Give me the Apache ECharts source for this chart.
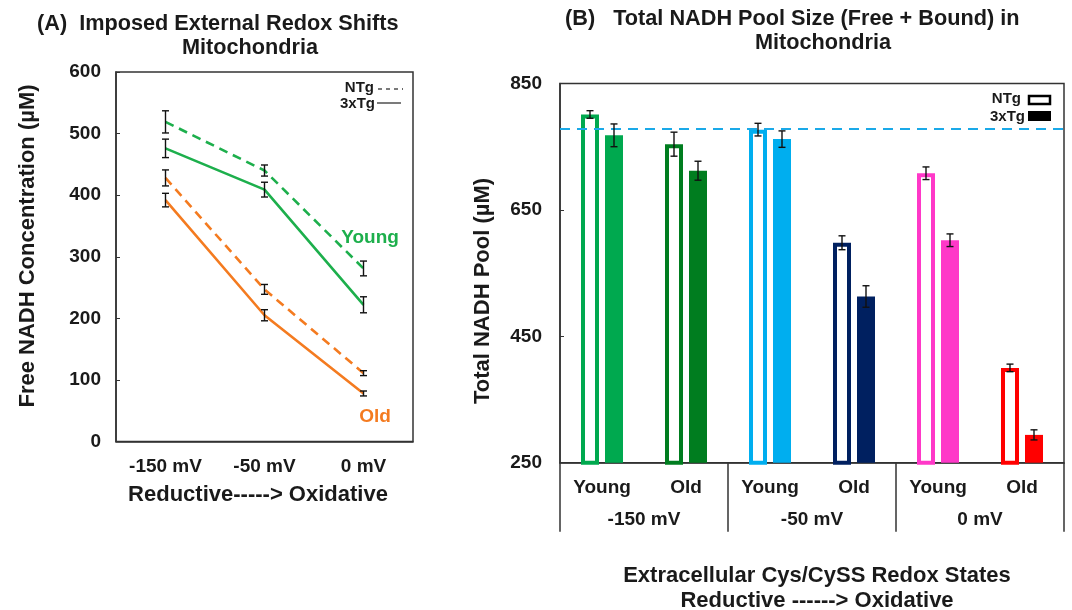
<!DOCTYPE html>
<html><head><meta charset="utf-8">
<script src="https://cdn.jsdelivr.net/npm/echarts@6/dist/echarts.min.js"></script>
<style>html,body{margin:0;padding:0;background:#fff}#c{width:1072px;height:610px}</style>
</head><body><div id="c"></div>
<script>
// ---------- Panel A data ----------
const redoxLabels = ['-150 mV', '-50 mV', '0 mV'];
const freeTicks = [0, 100, 200, 300, 400, 500, 600];
const youngNTg = [519, 440, 281];
const youngNTgErr = [18, 9, 12];
const young3xTg = [476, 409, 222];
const young3xTgErr = [15, 12, 13];
const oldNTg = [428, 247, 111];
const oldNTgErr = [13, 8, 4];
const old3xTg = [392, 205, 78];
const old3xTgErr = [11, 9, 4];

// ---------- Panel B data ----------
const ageLabels = ['Young', 'Old', 'Young', 'Old', 'Young', 'Old'];
const poolTicks = [250, 450, 650, 850];
const poolNTg = [801, 754, 777, 598, 708, 400];
const poolNTgErr = [6, 19, 10, 11, 10, 6];
const pool3xTg = [768, 712, 762, 513, 602, 294];
const pool3xTgErr = [18, 15, 13, 17, 10, 8];
const poolReference = 778;

// ---------- styles ----------
const FONT = 'Liberation Sans, Arial, sans-serif';
const INK = '#1a1a1a';
const GREEN = '#1daf4c';
const ORANGE = '#f47b20';
const barColors = ['#00a94f', '#007d1f', '#00aeef', '#002060', '#ff38c8', '#ff0000'];
const BAR_W = 18, BAR_GAP = 6;

function errRender(offset) {
  return function (params, api) {
    const x = api.value(0), v = api.value(1), e = api.value(2);
    const top = api.coord([x, v + e]);
    const bot = api.coord([x, v - e]);
    const cx = top[0] + offset;
    const cap = 3.5;
    const st = { stroke: '#111', lineWidth: 1.4 };
    return {
      type: 'group',
      children: [
        { type: 'line', shape: { x1: cx, y1: top[1], x2: cx, y2: bot[1] }, style: st },
        { type: 'line', shape: { x1: cx - cap, y1: top[1], x2: cx + cap, y2: top[1] }, style: st },
        { type: 'line', shape: { x1: cx - cap, y1: bot[1], x2: cx + cap, y2: bot[1] }, style: st }
      ]
    };
  };
}
function errData(vals, errs) { return vals.map((v, i) => [i, v, errs[i]]); }

const chart = echarts.init(document.getElementById('c'), null, { renderer: 'canvas' });

function T(t, x, y, size, opts) {
  opts = opts || {};
  return {
    type: 'text', x: x, y: y, rotation: opts.rotation || 0,
    style: { text: t, font: 'bold ' + size + 'px ' + FONT, fill: opts.fill || INK,
      textAlign: opts.align || 'center', textVerticalAlign: 'middle' }
  };
}

const axisLineStyle = { color: '#333', width: 1.5 };

const option = {
  animation: false,
  backgroundColor: '#fff',
  grid: [
    { left: 116, top: 72, width: 297, height: 369.5, show: true, borderColor: '#333', borderWidth: 1.5, containLabel: false },
    { left: 560, top: 83.5, width: 504, height: 379.2, show: true, borderColor: '#333', borderWidth: 1.5, containLabel: false }
  ],
  xAxis: [
    { type: 'category', gridIndex: 0, data: redoxLabels, boundaryGap: true,
      axisLine: { lineStyle: axisLineStyle },
      axisTick: { inside: true, length: 5, lineStyle: { color: '#333', width: 1.2 } },
      axisLabel: { margin: 16, color: INK, fontFamily: FONT, fontWeight: 'bold', fontSize: 19 } },
    { type: 'category', gridIndex: 1, data: ageLabels, position: 'bottom', offset: 0,
      axisLine: { lineStyle: axisLineStyle },
      axisTick: { show: false },
      axisLabel: { margin: 16, color: INK, fontFamily: FONT, fontWeight: 'bold', fontSize: 19 } },
    { type: 'category', gridIndex: 1, data: redoxLabels, position: 'bottom', offset: 0,
      axisLine: { show: false },
      axisTick: { show: true, length: 69, alignWithLabel: false, lineStyle: { color: '#333', width: 1.5 } },
      axisLabel: { margin: 48, color: INK, fontFamily: FONT, fontWeight: 'bold', fontSize: 19 } }
  ],
  yAxis: [
    { type: 'value', gridIndex: 0, min: freeTicks[0], max: freeTicks[freeTicks.length - 1], interval: 100,
      splitLine: { show: false },
      axisLine: { show: true, lineStyle: axisLineStyle },
      axisTick: { show: true, inside: true, length: 4, lineStyle: { color: '#333' } },
      axisLabel: { margin: 15, color: INK, fontFamily: FONT, fontWeight: 'bold', fontSize: 19 } },
    { type: 'value', gridIndex: 1, min: poolTicks[0], max: poolTicks[poolTicks.length - 1],
      splitLine: { show: false },
      axisLine: { show: true, lineStyle: axisLineStyle },
      axisTick: { show: true, inside: true, length: 4, customValues: poolTicks, lineStyle: { color: '#333' } },
      axisLabel: { margin: 18, customValues: poolTicks, color: INK, fontFamily: FONT, fontWeight: 'bold', fontSize: 19 } }
  ],
  series: [
    // Panel A lines
    { type: 'line', name: 'Young NTg', xAxisIndex: 0, yAxisIndex: 0, data: youngNTg, symbol: 'none',
      lineStyle: { color: GREEN, width: 2.6, type: [9, 6] } },
    { type: 'line', name: 'Young 3xTg', xAxisIndex: 0, yAxisIndex: 0, data: young3xTg, symbol: 'none',
      lineStyle: { color: GREEN, width: 2.6 } },
    { type: 'line', name: 'Old NTg', xAxisIndex: 0, yAxisIndex: 0, data: oldNTg, symbol: 'none',
      lineStyle: { color: ORANGE, width: 2.6, type: [9, 6] } },
    { type: 'line', name: 'Old 3xTg', xAxisIndex: 0, yAxisIndex: 0, data: old3xTg, symbol: 'none',
      lineStyle: { color: ORANGE, width: 2.6 } },
    { type: 'custom', xAxisIndex: 0, yAxisIndex: 0, renderItem: errRender(0), data: errData(youngNTg, youngNTgErr), z: 5 },
    { type: 'custom', xAxisIndex: 0, yAxisIndex: 0, renderItem: errRender(0), data: errData(young3xTg, young3xTgErr), z: 5 },
    { type: 'custom', xAxisIndex: 0, yAxisIndex: 0, renderItem: errRender(0), data: errData(oldNTg, oldNTgErr), z: 5 },
    { type: 'custom', xAxisIndex: 0, yAxisIndex: 0, renderItem: errRender(0), data: errData(old3xTg, old3xTgErr), z: 5 },
    // Panel B bars
    { type: 'bar', name: 'NTg', xAxisIndex: 1, yAxisIndex: 1, barWidth: BAR_W, barGap: (BAR_GAP / BAR_W * 100) + '%',
      data: poolNTg.map((v, i) => ({ value: v, itemStyle: { color: '#fff', borderColor: barColors[i], borderWidth: 4 } })),
      markLine: { silent: true, symbol: ['none', 'none'], label: { show: false },
        lineStyle: { color: '#1aa9e8', width: 2, type: [10, 7] }, data: [{ yAxis: poolReference }] } },
    { type: 'bar', name: '3xTg', xAxisIndex: 1, yAxisIndex: 1, barWidth: BAR_W,
      data: pool3xTg.map((v, i) => ({ value: v, itemStyle: { color: barColors[i] } })) },
    { type: 'custom', xAxisIndex: 1, yAxisIndex: 1, renderItem: errRender(-(BAR_W + BAR_GAP) / 2), data: errData(poolNTg, poolNTgErr), z: 5 },
    { type: 'custom', xAxisIndex: 1, yAxisIndex: 1, renderItem: errRender((BAR_W + BAR_GAP) / 2), data: errData(pool3xTg, pool3xTgErr), z: 5 }
  ],
  graphic: [
    // titles
    T('(A)  Imposed External Redox Shifts', 37, 24, 21.7, { align: 'left' }),
    T('Mitochondria', 250, 48, 21.7),
    T('(B)   Total NADH Pool Size (Free + Bound) in', 565, 19, 21.7, { align: 'left' }),
    T('Mitochondria', 823, 43, 21.7),
    // axis titles
    T('Free NADH Concentration (\u00b5M)', 28, 246, 22, { rotation: Math.PI / 2 }),
    T('Reductive-----> Oxidative', 258, 495, 22),
    T('Total NADH Pool (\u00b5M)', 483, 291, 22, { rotation: Math.PI / 2 }),
    T('Extracellular Cys/CySS Redox States', 817, 576, 22),
    T('Reductive ------> Oxidative', 817, 601, 22),
    // annotations A
    T('Young', 370, 238, 19, { fill: GREEN }),
    T('Old', 375, 417, 19, { fill: ORANGE }),
    // legend A
    T('NTg', 374, 88, 15, { align: 'right' }),
    T('3xTg', 375, 104, 15, { align: 'right' }),
    { type: 'line', shape: { x1: 378, y1: 89, x2: 403, y2: 89 }, style: { stroke: '#333', lineWidth: 1.3, lineDash: [4, 4] } },
    { type: 'line', shape: { x1: 377, y1: 103, x2: 401, y2: 103 }, style: { stroke: '#333', lineWidth: 1.3 } },
    // legend B
    T('NTg', 1021, 99, 15, { align: 'right' }),
    T('3xTg', 1025, 117, 15, { align: 'right' }),
    { type: 'rect', shape: { x: 1029, y: 96, width: 21, height: 8 }, style: { fill: '#fff', stroke: '#000', lineWidth: 2.5 } },
    { type: 'rect', shape: { x: 1028, y: 111, width: 23, height: 10 }, style: { fill: '#000' } }
  ]
};
chart.setOption(option);
</script>
</body></html>
